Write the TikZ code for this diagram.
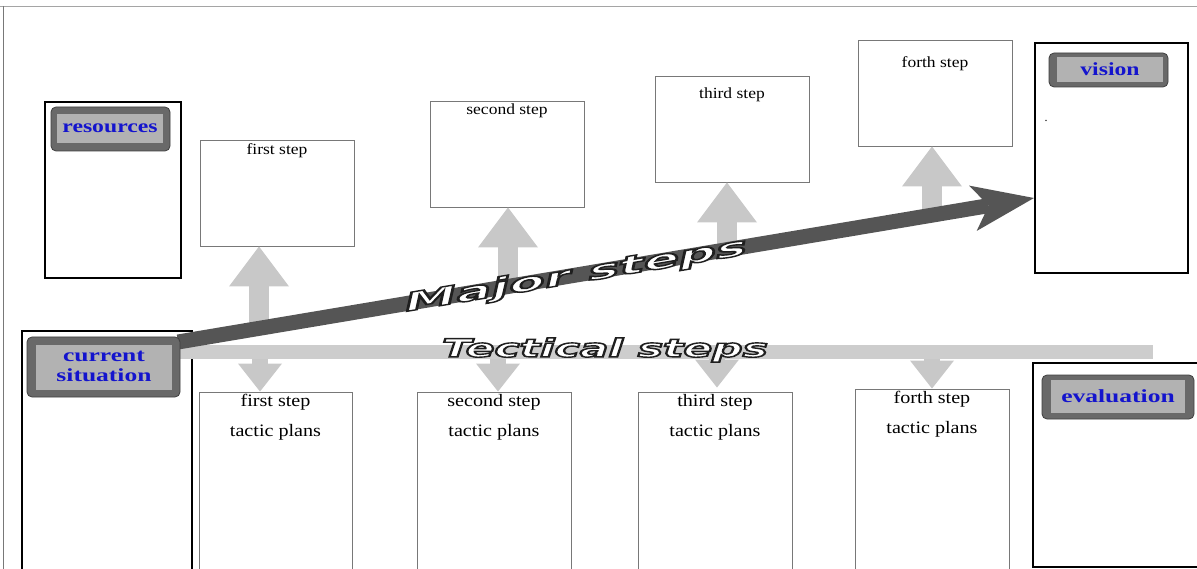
\documentclass[tikz,border=0pt]{standalone}
\usepackage{fontspec}
\setmainfont{Liberation Serif}
\newfontfamily\widesans{DejaVu Sans}
\usetikzlibrary{arrows.meta,calc}
\definecolor{lblblue}{RGB}{20,20,205}
\definecolor{lbldark}{RGB}{105,105,105}
\definecolor{lbllight}{RGB}{178,178,178}
\definecolor{majcol}{RGB}{85,85,85}
\definecolor{tacgrey}{RGB}{205,205,205}
\definecolor{arrgrey}{RGB}{200,200,200}
\definecolor{stepedge}{RGB}{120,120,120}
\definecolor{framegrey}{RGB}{165,165,165}
\newcommand\outlinedtxt[1]{{\color{white}\special{pdf:literal direct 2 Tr 1.4 w 0.12 G}#1\special{pdf:literal direct 0 Tr}}}
\begin{document}
\begin{tikzpicture}[x=1pt,y=-1pt,
  bigbox/.style={draw=black, line width=2.6pt, fill=white, inner sep=0pt, outer sep=0pt},
  labelouter/.style={draw=black!75, line width=0.8pt, fill=lbldark, rounded corners=5pt, inner sep=0pt},
  labelinner/.style={fill=lbllight, inner sep=0pt, text=lblblue, align=center,
     font=\fontsize{18.5}{19.5}\selectfont\bfseries},
  stepbox/.style={draw=stepedge, line width=0.9pt, fill=white, inner sep=0pt,
     minimum width=154pt},
  toptext/.style={inner sep=0pt, font=\fontsize{15.5}{17}\selectfont, xscale=1.13},
  bottext/.style={inner sep=0pt, font=\fontsize{17.5}{19}\selectfont, xscale=1.15},
  uparrow/.style={draw=arrgrey, line width=20pt, -{Triangle[length=40pt,width=60pt,line width=0pt]}},
  downarrow/.style={draw=arrgrey, line width=16pt, -{Triangle[length=28pt,width=44pt,line width=0pt]}},
  tacbar/.style={draw=tacgrey, line width=13pt},
  majorarrow/.style={draw=majcol, line width=15pt, -{Stealth[length=62pt,width=46pt,inset=16pt,line width=0pt]}},
  bigword/.style={inner sep=0pt, font=\widesans\bfseries\itshape\fontsize{25}{26}\selectfont}
]
\useasboundingbox (0,0) rectangle (1197,569);
% frame
\draw[framegrey, line width=1.6pt] (0,6.5) -- (1197,6.5);
\draw[stepedge, line width=0.9pt] (3.5,6) -- (3.5,569);

% big boxes
\node[bigbox, minimum width=136pt, minimum height=176pt] (res) at (113,190) {};
\node[bigbox, minimum width=170pt, minimum height=269pt] (cur) at (107,465.5) {};
\node[bigbox, minimum width=153pt, minimum height=230pt] (vis) at (1111.5,158) {};
\node[bigbox, minimum width=182pt, minimum height=204pt] (eva) at (1124,465) {};

% top step boxes
\node[stepbox, minimum height=106pt] (s1) at (277,193) {};
\node[stepbox, minimum height=106pt] (s2) at (507,154) {};
\node[stepbox, minimum height=106pt] (s3) at (732,129) {};
\node[stepbox, minimum height=106pt] (s4) at (935,93) {};
% bottom step boxes
\node[stepbox, minimum width=153pt, minimum height=208pt] (b1) at (275.5,496) {};
\node[stepbox, minimum height=208pt] (b2) at (494,496) {};
\node[stepbox, minimum height=208pt] (b3) at (715,496) {};
\node[stepbox, minimum height=211pt] (b4) at (932,494.5) {};

% major / tactical anchor coordinates
\coordinate (majS) at (178,342);
\coordinate (majE) at (1034,198);
\coordinate (tacS) at (176,352);
\coordinate (tacE) at (1153,352);
\coordinate (u1) at (259,331);
\coordinate (u2) at (508,290);
\coordinate (u3) at (727,253);
\coordinate (u4) at (932,218);

% vertical arrows
\draw[uparrow] (u1) -- ([xshift=-18pt]s1.south);
\draw[uparrow] (u2) -- ([xshift=1pt]s2.south);
\draw[uparrow] (u3) -- ([xshift=-5pt]s3.south);
\draw[uparrow] (u4) -- ([xshift=-3pt]s4.south);
\draw[downarrow] ([xshift=-15.5pt]b1.north |- tacS) -- ([xshift=-15.5pt]b1.north);
\draw[downarrow] ([xshift=4pt]b2.north |- tacS) -- ([xshift=4pt]b2.north);
\draw[downarrow] ([xshift=2pt]b3.north |- tacS) -- ([xshift=2pt,yshift=4pt]b3.north);
\draw[downarrow] (b4.north |- tacS) -- (b4.north);

% bars
\draw[tacbar] (tacS) -- (tacE);
\draw[majorarrow] (majS) -- (majE);

% bar words
\node[bigword, xscale=1.7] (tacw) at (605,350) {\outlinedtxt{Tectical steps}};
\node[bigword, rotate=9.55, xscale=2.1] (majw) at (576,276) {\outlinedtxt{Major steps}};

% labels
\node[labelouter, minimum width=119pt, minimum height=44pt] (reslabo) at (110.5,129) {};
\node[labelinner, minimum width=106pt, minimum height=29pt] (reslab) at (110,128.5) {\scalebox{1.28}[1]{resources}};
\node[labelouter, minimum width=153pt, minimum height=60pt] (curlabo) at (103.5,367) {};
\node[labelinner, minimum width=136pt, minimum height=45pt] (curlab) at (104,367.5) {\scalebox{1.38}[1]{\begin{tabular}{@{}c@{}}current\\situation\end{tabular}}};
\node[labelouter, minimum width=119pt, minimum height=34pt] (vislabo) at (1108.5,70) {};
\node[labelinner, minimum width=106pt, minimum height=25pt] (vislab) at (1110,69.5) {\scalebox{1.28}[1]{vision}};
\node[labelouter, minimum width=152pt, minimum height=44pt] (evalabo) at (1118,397) {};
\node[labelinner, minimum width=134pt, minimum height=33pt] (evalab) at (1118,396.5) {\scalebox{1.38}[1]{evaluation}};
\node[inner sep=0pt, font=\fontsize{12}{12}\selectfont] (visdot) at (1046,121) {.};

% step texts
\node[toptext] (s1t) at ([yshift=-11pt]s1.north) {first step};
\node[toptext] (s2t) at ([yshift=-10pt]s2.north) {second step};
\node[toptext] (s3t) at ([yshift=-19pt]s3.north) {third step};
\node[toptext] (s4t) at ([yshift=-24pt]s4.north) {forth step};
\node[bottext] (b1t) at ([yshift=-11pt]b1.north) {first step};
\node[bottext] (b1p) at ([yshift=-41pt]b1.north) {tactic plans};
\node[bottext] (b2t) at ([yshift=-11pt]b2.north) {second step};
\node[bottext] (b2p) at ([yshift=-41pt]b2.north) {tactic plans};
\node[bottext] (b3t) at ([yshift=-11pt]b3.north) {third step};
\node[bottext] (b3p) at ([yshift=-41pt]b3.north) {tactic plans};
\node[bottext] (b4t) at ([yshift=-11pt]b4.north) {forth step};
\node[bottext] (b4p) at ([yshift=-41pt]b4.north) {tactic plans};
\end{tikzpicture}
\end{document}
